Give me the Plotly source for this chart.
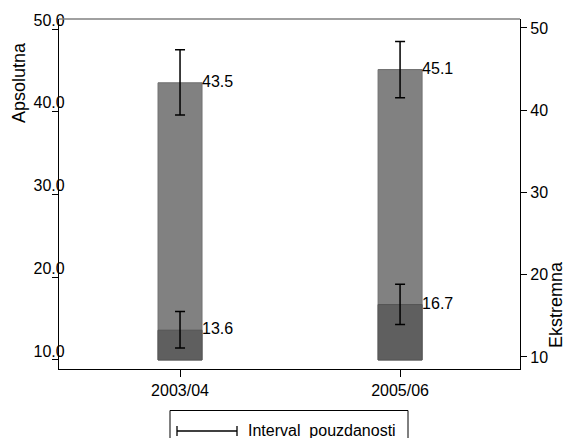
import plotly.graph_objects as go

categories = ["2003/04", "2005/06"]
apsolutna = [43.5, 45.1]
aps_low = [39.6, 41.7]
aps_high = [47.5, 48.5]
ekstremna = [13.6, 16.7]
eks_low = [11.45, 14.3]
eks_high = [15.85, 19.15]
base_value = 10
left_ticks = [10, 20, 30, 40, 50]
right_ticks = [10, 20, 30, 40, 50]

xs = list(range(len(categories)))
bar_w = 0.2
FONT = "Liberation Sans, Arial, sans-serif"

fig = go.Figure()

fig.add_trace(go.Bar(
    x=xs, y=[v - base_value for v in apsolutna], base=base_value, width=bar_w,
    marker=dict(color="#818181", line=dict(color="#707070", width=1)),
    yaxis="y", showlegend=False, hoverinfo="skip"))
fig.add_trace(go.Bar(
    x=xs, y=[v - base_value for v in ekstremna], base=base_value, width=bar_w,
    marker=dict(color="#5f5f5f", line=dict(color="#555555", width=1)),
    yaxis="y", showlegend=False, hoverinfo="skip"))

# error bars
fig.add_trace(go.Scatter(
    x=xs, y=apsolutna, mode="markers", marker=dict(size=0.1, color="rgba(0,0,0,0)"),
    error_y=dict(type="data", symmetric=False,
                 array=[h - v for h, v in zip(aps_high, apsolutna)],
                 arrayminus=[v - l for v, l in zip(apsolutna, aps_low)],
                 color="black", thickness=1.5, width=5),
    yaxis="y", showlegend=False, hoverinfo="skip"))
fig.add_trace(go.Scatter(
    x=xs, y=ekstremna, mode="markers", marker=dict(size=0.1, color="rgba(0,0,0,0)"),
    error_y=dict(type="data", symmetric=False,
                 array=[h - v for h, v in zip(eks_high, ekstremna)],
                 arrayminus=[v - l for v, l in zip(ekstremna, eks_low)],
                 color="black", thickness=1.5, width=5),
    yaxis="y", showlegend=False, hoverinfo="skip"))

# value labels
fig.add_trace(go.Scatter(
    x=[x + bar_w / 2 for x in xs], y=apsolutna, mode="text",
    text=[f"{v:.1f}" for v in apsolutna], textposition="middle right",
    textfont=dict(family=FONT, size=16, color="black"),
    yaxis="y", showlegend=False, hoverinfo="skip"))
fig.add_trace(go.Scatter(
    x=[x + bar_w / 2 for x in xs], y=ekstremna, mode="text",
    text=[f"{v:.1f}" for v in ekstremna], textposition="middle right",
    textfont=dict(family=FONT, size=16, color="black"),
    yaxis="y", showlegend=False, hoverinfo="skip"))

# invisible anchor trace for the right-hand axis
fig.add_trace(go.Scatter(
    x=[xs[0]], y=[right_ticks[0]], mode="markers",
    marker=dict(size=0.1, color="rgba(0,0,0,0)"),
    yaxis="y2", showlegend=False, hoverinfo="skip"))

fig.update_layout(
    width=567, height=438,
    margin=dict(l=59, r=47, t=19, b=69, autoexpand=False),
    plot_bgcolor="white", paper_bgcolor="white",
    font=dict(family=FONT, size=16, color="black"),
    barmode="overlay",
    xaxis=dict(range=[-0.55, 1.545], tickvals=xs, ticktext=categories,
               showline=True, linecolor="black", linewidth=1.3, automargin=False,
               ticks="outside", ticklen=7, tickcolor="black", showgrid=False,
               zeroline=False, tickfont=dict(size=16)),
    yaxis=dict(range=[8.91, 51.21], tickvals=left_ticks,
               ticktext=[f"{t:.1f}" for t in left_ticks], automargin=False,
               showline=True, linecolor="black", linewidth=1.3,
               ticks="outside", ticklen=6, tickcolor="black", showgrid=False,
               zeroline=False, ticklabelstandoff=-16, ticklabelshift=-9),
    yaxis2=dict(range=[8.54, 51.09], tickvals=right_ticks, overlaying="y", side="right",
                showline=True, linecolor="black", linewidth=1.3, automargin=False,
                ticks="outside", ticklen=6, tickcolor="black", showgrid=False,
                zeroline=False),
    shapes=[
        dict(type="line", xref="paper", yref="paper", x0=0, x1=1, y0=1, y1=1,
             line=dict(color="#808080", width=1.5)),
        # legend box
        dict(type="rect", xref="paper", yref="paper",
             x0=(170 - 59) / 461, x1=(408 - 59) / 461,
             y0=(369 - 445) / 350, y1=(369 - 410.5) / 350,
             line=dict(color="black", width=1), fillcolor="white"),
        dict(type="line", xref="paper", yref="paper",
             x0=(177 - 59) / 461, x1=(237 - 59) / 461,
             y0=(369 - 431) / 350, y1=(369 - 431) / 350,
             line=dict(color="black", width=1.3)),
        dict(type="line", xref="paper", yref="paper",
             x0=(177 - 59) / 461, x1=(177 - 59) / 461,
             y0=(369 - 426) / 350, y1=(369 - 436) / 350,
             line=dict(color="black", width=1.3)),
        dict(type="line", xref="paper", yref="paper",
             x0=(237 - 59) / 461, x1=(237 - 59) / 461,
             y0=(369 - 426) / 350, y1=(369 - 436) / 350,
             line=dict(color="black", width=1.3)),
    ],
    annotations=[
        dict(text="Apsolutna", textangle=-90, xref="paper", yref="paper",
             x=(19 - 59) / 461, y=(369 - 83) / 350, showarrow=False,
             xanchor="center", yanchor="middle", font=dict(size=18)),
        dict(text="Ekstremna", textangle=-90, xref="paper", yref="paper",
             x=(556 - 59) / 461, y=(369 - 305) / 350, showarrow=False,
             xanchor="center", yanchor="middle", font=dict(size=18)),
        dict(text="Interval  pouzdanosti", xref="paper", yref="paper",
             x=(246 - 59) / 461, y=(369 - 430) / 350, showarrow=False,
             xanchor="left", yanchor="middle", font=dict(size=16)),
    ],
)

fig.write_html("out.html", config={"displayModeBar": False},
               post_script="document.body.style.margin='0';document.body.style.overflow='hidden';")
